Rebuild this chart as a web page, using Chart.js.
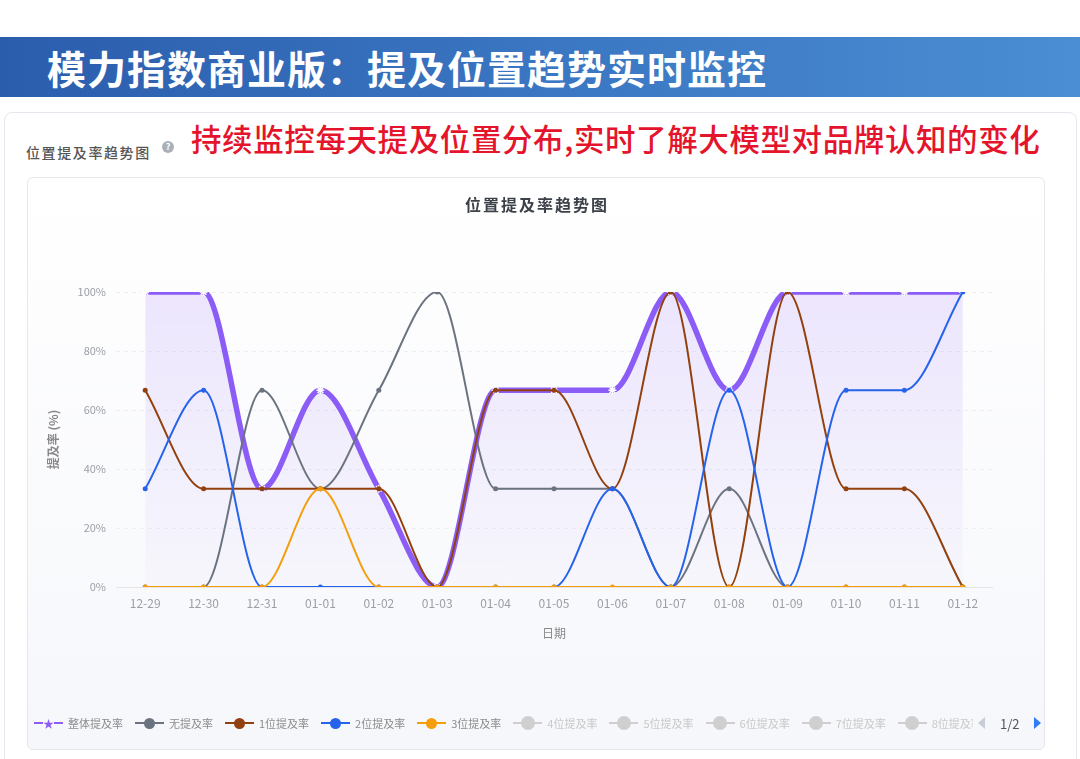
<!DOCTYPE html>
<html>
<head>
<meta charset="utf-8">
<script src="https://cdn.jsdelivr.net/npm/chart.js@4.4.1/dist/chart.umd.min.js"></script>
<style>
  body { margin: 0; width: 1080px; height: 759px; overflow: hidden; background: #fff;
         font-family: "Noto Sans CJK SC", "Noto Sans", sans-serif; position: relative; }
  .banner { position: absolute; left: 0; top: 37px; width: 1080px; height: 60px;
            background: linear-gradient(90deg, #2b5dad 0%, #3a76c2 50%, #4b8ed3 100%); }
  .banner span { position: absolute; left: 47px; top: 0; line-height: 60px; font-size: 39px;
                 font-weight: 700; color: #fff; letter-spacing: 1px; }
  .outer { position: absolute; left: 4px; top: 112px; width: 1071px; height: 660px;
           border: 1px solid #e4e7ee; border-radius: 8px; background: #fff; }
  .label { position: absolute; left: 26px; top: 142px; font-size: 14px; color: #555; font-weight: 500;
           letter-spacing: 1.6px; }
  .help { position: absolute; left: 162px; top: 141px; width: 12px; height: 12px; border-radius: 50%;
          background: #aab0ba; color: #fff; font-size: 9px; line-height: 12px; text-align: center; font-weight: 700; }
  .note { position: absolute; left: 191px; top: 116px; font-size: 30.5px; color: #e3142b; font-weight: 500; letter-spacing: 0.6px; }
  .card { position: absolute; left: 27px; top: 177px; width: 1018px; height: 573px; box-sizing: border-box;
          border: 1px solid #e5e7eb; border-radius: 6px; background: linear-gradient(#ffffff, #f6f7fb); }
  .wrap { position: absolute; left: 0; top: 0; width: 1016px; height: 571px; }
  .ctitle { position: absolute; left: 1px; width: 1016px; top: 14px; text-align: center; font-size: 16px;
            font-weight: 700; color: #3c4048; letter-spacing: 2px; }
  .legend { position: absolute; left: 6px; top: 535px; width: 939px; height: 20px; overflow: hidden;
            display: flex; align-items: center; white-space: nowrap; }
  .item { display: flex; align-items: center; margin-right: 12px; flex: none; }
  .icon { position: relative; width: 29px; height: 14px; margin-right: 5px; }
  .icon .ln { position: absolute; left: 0; top: 6px; width: 29px; height: 2px; }
  .icon .dot { position: absolute; border-radius: 50%; }
  .icon .star { position: absolute; left: 9px; top: -2px; width: 11px; font-size: 11px; line-height: 18px;
                text-align: center; }
  .txt { font-size: 11px; }
  .pager { position: absolute; left: 950px; top: 535px; height: 20px; display: flex; align-items: center; }
  .tri-l { width: 0; height: 0; border-top: 6px solid transparent; border-bottom: 6px solid transparent;
           border-right: 7px solid #c8ccd4; }
  .tri-r { width: 0; height: 0; border-top: 6px solid transparent; border-bottom: 6px solid transparent;
           border-left: 7px solid #2f7cf6; }
  .pg { font-size: 13px; color: #555; margin: 0 14px 0 15px; }
</style>
</head>
<body>
<div class="banner"><span>模力指数商业版：提及位置趋势实时监控</span></div>
<div class="outer"></div>
<div class="label">位置提及率趋势图</div>
<div class="help">?</div>
<div class="note">持续监控每天提及位置分布,实时了解大模型对品牌认知的变化</div>
<div class="card">
  <div class="wrap"><canvas id="trend"></canvas></div>
  <div class="ctitle">位置提及率趋势图</div>
  <div class="legend" id="legend"></div>
  <div class="pager"><div class="tri-l"></div><span class="pg">1/2</span><div class="tri-r"></div></div>
</div>
<script>
const dates = ['12-29', '12-30', '12-31', '01-01', '01-02', '01-03', '01-04', '01-05',
               '01-06', '01-07', '01-08', '01-09', '01-10', '01-11', '01-12'];
const overall   = [100, 100, 33.3, 66.7, 33.3, 0, 66.7, 66.7, 66.7, 100, 66.7, 100, 100, 100, 100];
const noMention = [0, 0, 66.7, 33.3, 66.7, 100, 33.3, 33.3, 33.3, 0, 33.3, 0, 0, 0, 0];
const pos1      = [66.7, 33.3, 33.3, 33.3, 33.3, 0, 66.7, 66.7, 33.3, 100, 0, 100, 33.3, 33.3, 0];
const pos2      = [33.3, 66.7, 0, 0, 0, 0, 0, 0, 33.3, 0, 66.7, 0, 66.7, 66.7, 100];
const pos3      = [0, 0, 0, 33.3, 0, 0, 0, 0, 0, 0, 0, 0, 0, 0, 0];
const seriesNames = ['整体提及率', '无提及率', '1位提及率', '2位提及率', '3位提及率'];
const hiddenNames = ['4位提及率', '5位提及率', '6位提及率', '7位提及率', '8位提及率'];
const yTicks = [0, 20, 40, 60, 80, 100];

const colors = ['#8b5cf6', '#6b7280', '#92400e', '#2563eb', '#f59e0b'];
const values = [overall, noMention, pos1, pos2, pos3];

const datasets = values.map((v, i) => {
    const ds = {
        label: seriesNames[i],
        data: v,
        borderColor: colors[i],
        borderWidth: 2,
        cubicInterpolationMode: 'monotone',
        pointRadius: 2.5,
        pointBackgroundColor: colors[i],
        pointBorderColor: colors[i],
        pointBorderWidth: 0,
        fill: false,
        order: values.length - i
    };
    if (i === 0) {
        ds.borderWidth = 5.5;
        ds.pointStyle = 'star';
        ds.pointRadius = 4;
        ds.pointBorderColor = '#ffffff';
        ds.pointBorderWidth = 1.5;
        ds.fill = 'origin';
        ds.backgroundColor = ctx => {
            const a = ctx.chart.chartArea;
            if (!a) return 'rgba(139,92,246,0.1)';
            const g = ctx.chart.ctx.createLinearGradient(0, a.top, 0, a.bottom);
            g.addColorStop(0, 'rgba(139,92,246,0.15)');
            g.addColorStop(1, 'rgba(139,92,246,0.02)');
            return g;
        };
    }
    return ds;
});

new Chart(document.getElementById('trend').getContext('2d'), {
    type: 'line',
    data: {labels: dates, datasets: datasets},
    options: {
        responsive: true,
        maintainAspectRatio: false,
        animation: false,
        layout: {padding: {top: 114, right: 52, bottom: 92, left: 0}},
        plugins: {legend: {display: false}, tooltip: {enabled: false}},
        scales: {
            x: {
                offset: true,
                grid: {display: false},
                border: {display: true, color: '#e3e5ea'},
                ticks: {color: '#9a9ea6', font: {size: 12, family: 'Noto Sans CJK SC'}, padding: 1},
                title: {display: true, text: '日期', color: '#888', font: {size: 12, family: 'Noto Sans CJK SC'},
                        padding: {top: 4, bottom: 16}},
                afterFit: s => { s.height = 70; }
            },
            y: {
                min: 0,
                max: 100,
                afterBuildTicks: s => { s.ticks = yTicks.map(v => ({value: v})); },
                grid: {color: '#eceef2', drawTicks: false},
                border: {display: false, dash: [4, 4]},
                ticks: {color: '#9a9ea6', font: {size: 11, family: 'Noto Sans CJK SC'}, padding: 10,
                        callback: v => v + '%'},
                title: {display: true, text: '提及率 (%)', color: '#888',
                        font: {size: 12, weight: 'bold', family: 'Noto Sans CJK SC'}, padding: {top: 18, bottom: 4}},
                afterFit: s => { s.width = 88; }
            }
        }
    }
});

// legend, ECharts-like with a pager
const legend = document.getElementById('legend');
function addItem(name, color, active, star) {
    const item = document.createElement('div');
    item.className = 'item';
    const icon = document.createElement('div');
    icon.className = 'icon';
    const ln = document.createElement('div');
    ln.className = 'ln';
    ln.style.background = color;
    icon.appendChild(ln);
    if (star) {
        ln.style.background = `linear-gradient(90deg, ${color} 0 9px, transparent 9px 20px, ${color} 20px)`;
        const s = document.createElement('div');
        s.className = 'star';
        s.style.color = color;
        s.textContent = '★';
        icon.appendChild(s);
    } else {
        const d = document.createElement('div');
        d.className = 'dot';
        const r = active ? 11 : 14;
        d.style.width = r + 'px';
        d.style.height = r + 'px';
        d.style.left = (29 - r) / 2 + 'px';
        d.style.top = (14 - r) / 2 + 'px';
        d.style.background = color;
        icon.appendChild(d);
    }
    const t = document.createElement('span');
    t.className = 'txt';
    t.textContent = name;
    t.style.color = active ? '#8c8c8c' : '#c8c8c8';
    item.appendChild(icon);
    item.appendChild(t);
    legend.appendChild(item);
}
seriesNames.forEach((n, i) => addItem(n, colors[i], true, i === 0));
hiddenNames.forEach(n => addItem(n, '#cfcfcf', false, false));
</script>
</body>
</html>
